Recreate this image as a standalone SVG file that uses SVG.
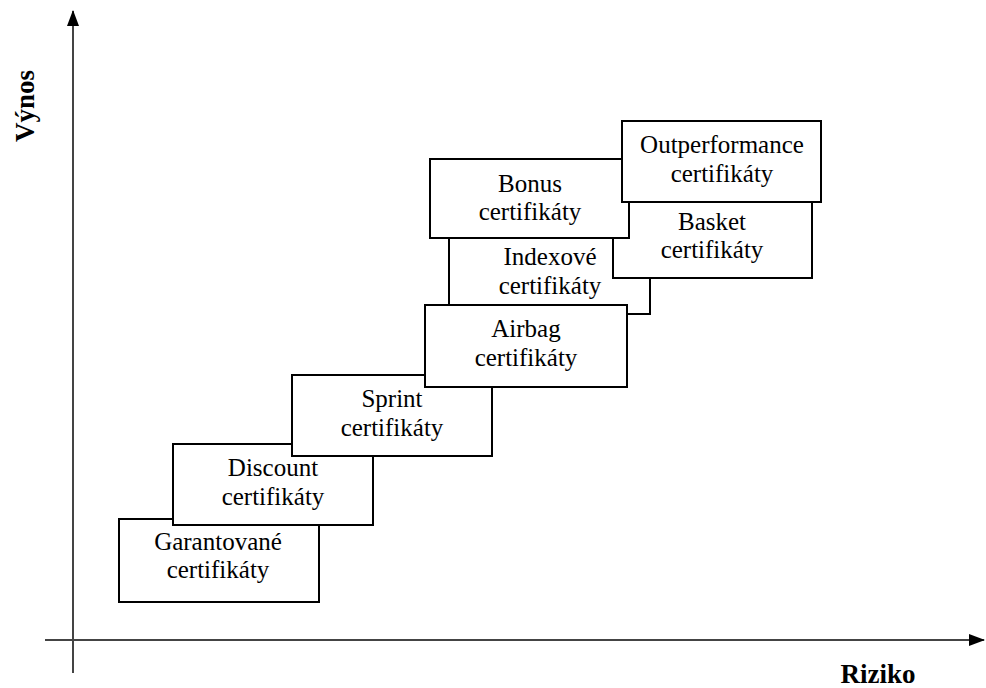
<svg xmlns="http://www.w3.org/2000/svg" width="986" height="688" viewBox="0 0 986 688">
<defs>
<marker id="arr" viewBox="0 0 16 16" refX="15" refY="8" markerWidth="16" markerHeight="16" orient="auto" markerUnits="userSpaceOnUse">
<path d="M0,2 L16,8 L0,14 z" fill="#000"/>
</marker>
<style>
.box{fill:#fff;stroke:#000;stroke-width:2}
.t{font-size:25px;fill:#000;text-anchor:middle}
.ax{stroke:#444;stroke-width:2;fill:none}
.lbl{font-size:27px;font-weight:bold;fill:#000}
</style>
</defs>
<rect width="986" height="688" fill="#fff"/>
<g id="axes">
<line class="ax" x1="73" y1="673" x2="73" y2="11" marker-end="url(#arr)"/>
<line class="ax" x1="45" y1="640" x2="984" y2="640" marker-end="url(#arr)"/>
</g>
<g font-family="Liberation Serif, Times New Roman, serif">
<text class="lbl" transform="translate(34,106) rotate(-90)" text-anchor="middle">Výnos</text>
<text class="lbl" x="878" y="683" text-anchor="middle">Riziko</text>
<g id="indexove">
<rect class="box" x="449" y="228" width="201" height="86"/>
<text class="t" x="550" y="265">Indexové</text>
<text class="t" x="550" y="294">certifikáty</text>
</g>
<g id="basket">
<rect class="box" x="613" y="190" width="199" height="88"/>
<text class="t" x="712" y="230">Basket</text>
<text class="t" x="712" y="258">certifikáty</text>
</g>
<g id="bonus">
<rect class="box" x="430" y="159" width="199" height="79"/>
<text class="t" x="530" y="192">Bonus</text>
<text class="t" x="530" y="220">certifikáty</text>
</g>
<g id="outperformance">
<rect class="box" x="622" y="121" width="199" height="81"/>
<text class="t" x="722" y="153">Outperformance</text>
<text class="t" x="722" y="182">certifikáty</text>
</g>
<g id="garantovane">
<rect class="box" x="119" y="519" width="200" height="83"/>
<text class="t" x="218" y="550">Garantované</text>
<text class="t" x="218" y="578">certifikáty</text>
</g>
<g id="discount">
<rect class="box" x="173" y="444" width="200" height="81"/>
<text class="t" x="273" y="476">Discount</text>
<text class="t" x="273" y="505">certifikáty</text>
</g>
<g id="sprint">
<rect class="box" x="292" y="375" width="200" height="81"/>
<text class="t" x="392" y="407">Sprint</text>
<text class="t" x="392" y="436">certifikáty</text>
</g>
<g id="airbag">
<rect class="box" x="425" y="305" width="202" height="82"/>
<text class="t" x="526" y="337">Airbag</text>
<text class="t" x="526" y="366">certifikáty</text>
</g>
</g>
</svg>
